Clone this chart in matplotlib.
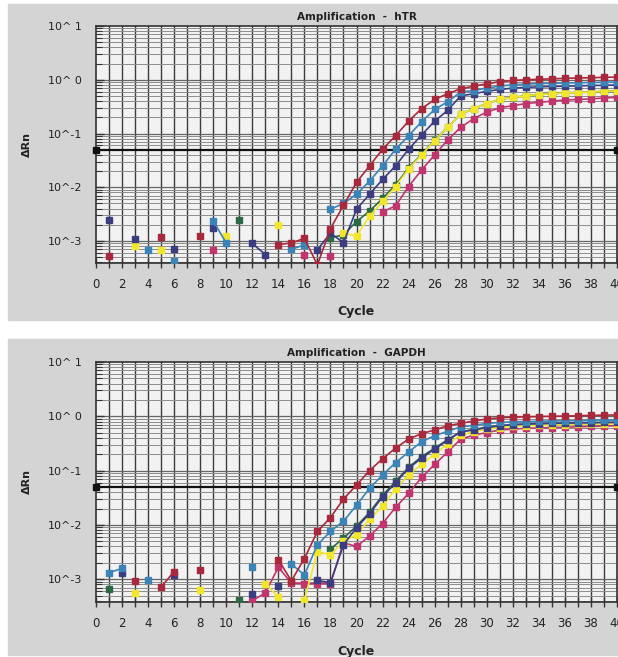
import numpy as np
import matplotlib
matplotlib.use("Agg")
import matplotlib.pyplot as plt
from matplotlib.patches import Rectangle
from matplotlib.ticker import FixedLocator, NullFormatter, LogLocator

nan = np.nan
cycles = list(range(1, 41))
thresh = 0.05
ytick_vals = [1e-3, 1e-2, 1e-1, 1e0, 1e1]
ytick_text = ["10^-3", "10^-2", "10^-1", "10^ 0", "10^ 1"]

# hTR panel (delta Rn per cycle, nan = not plotted)
htr_red = [5.3e-4, nan, nan, nan, 1.18e-3, nan, nan, 1.24e-3, nan, nan,
           nan, nan, nan, 8.6e-4, 9.2e-4, 1.12e-3, 3.6e-4, 1.7e-3, 4.6e-3, 0.0123,
           0.025, 0.051, 0.091, 0.17, 0.29, 0.43, 0.55, 0.68, 0.76, 0.84,
           0.92, 0.97, 1.0, 1.02, 1.04, 1.06, 1.08, 1.09, 1.11, 1.12]
htr_blue = [nan, nan, nan, 6.8e-4, nan, 4.2e-4, nan, nan, 2.35e-3, 9.2e-4,
            nan, nan, nan, nan, 7.0e-4, 8.5e-4, nan, 3.9e-3, 5.0e-3, 7.4e-3,
            0.013, 0.025, 0.051, 0.091, 0.166, 0.28, 0.39, 0.59, 0.63, 0.70,
            0.76, 0.81, 0.83, 0.85, 0.86, 0.87, 0.88, 0.89, 0.90, 0.90]
htr_navy = [2.5e-3, nan, 1.1e-3, nan, nan, 7.2e-4, nan, nan, 1.77e-3, nan,
            nan, 9.0e-4, 5.6e-4, nan, nan, nan, 6.9e-4, 1.4e-3, 9.3e-4, 3.9e-3,
            7.4e-3, 0.014, 0.025, 0.051, 0.094, 0.17, 0.27, 0.50, 0.55, 0.61,
            0.66, 0.70, 0.72, 0.74, 0.75, 0.76, 0.77, 0.78, 0.79, 0.80]
htr_green = [nan, nan, nan, nan, nan, nan, nan, nan, nan, nan,
             2.5e-3, nan, nan, nan, nan, nan, nan, 1.15e-3, 1.3e-3, 2.3e-3,
             3.6e-3, 6.2e-3, 0.011, 0.023, 0.041, 0.075, 0.13, 0.23, 0.29, 0.36,
             0.43, 0.47, 0.50, 0.53, 0.55, 0.57, 0.58, 0.59, 0.61, 0.62]
htr_yellow = [nan, nan, 8.0e-4, nan, 6.8e-4, nan, nan, nan, nan, 1.24e-3,
              nan, nan, nan, 2.0e-3, nan, nan, nan, nan, 1.4e-3, 1.23e-3,
              2.9e-3, 5.5e-3, 0.0103, 0.022, 0.040, 0.074, 0.13, 0.23, 0.29, 0.36,
              0.43, 0.47, 0.50, 0.53, 0.55, 0.57, 0.58, 0.59, 0.61, 0.62]
htr_magenta = [nan, nan, nan, nan, nan, nan, nan, nan, 6.8e-4, nan,
               nan, nan, nan, nan, nan, 5.6e-4, nan, 5.3e-4, nan, nan,
               nan, 3.5e-3, 4.5e-3, 0.0103, 0.021, 0.040, 0.076, 0.13, 0.19, 0.25,
               0.30, 0.33, 0.36, 0.38, 0.40, 0.42, 0.43, 0.44, 0.46, 0.47]

# GAPDH panel
gapdh_red = [nan, nan, 9.3e-4, nan, 7.2e-4, 1.38e-3, nan, 1.5e-3, nan, nan,
             nan, nan, nan, 2.3e-3, 9.3e-4, 2.4e-3, 7.6e-3, 0.0136, 0.030, 0.054,
             0.10, 0.165, 0.26, 0.38, 0.48, 0.56, 0.67, 0.74, 0.82, 0.89,
             0.94, 0.96, 0.98, 0.99, 1.0, 1.01, 1.02, 1.04, 1.05, 1.06]
gapdh_blue = [1.32e-3, 1.58e-3, nan, 9.6e-4, nan, nan, nan, nan, nan, nan,
              nan, 1.7e-3, nan, nan, 1.9e-3, 1.2e-3, 4.3e-3, 7.6e-3, 0.0117, 0.023,
              0.047, 0.083, 0.14, 0.22, 0.34, 0.44, 0.53, 0.64, 0.68, 0.74,
              0.77, 0.79, 0.80, 0.81, 0.82, 0.83, 0.83, 0.84, 0.85, 0.85]
gapdh_navy = [nan, 1.28e-3, nan, nan, nan, 1.2e-3, nan, nan, nan, nan,
              nan, 5.4e-4, nan, 7.4e-4, nan, nan, 9.5e-4, 8.6e-4, 4.3e-3, 8.9e-3,
              0.016, 0.033, 0.060, 0.11, 0.17, 0.25, 0.36, 0.52, 0.56, 0.62,
              0.67, 0.70, 0.72, 0.73, 0.74, 0.75, 0.76, 0.76, 0.77, 0.77]
gapdh_green = [6.5e-4, nan, nan, nan, nan, nan, nan, nan, nan, nan,
               4.2e-4, nan, nan, nan, nan, nan, nan, 3.6e-3, 5.7e-3, 9.5e-3,
               0.017, 0.035, 0.063, 0.115, 0.18, 0.26, 0.37, 0.52, 0.57, 0.63,
               0.67, 0.70, 0.72, 0.73, 0.74, 0.75, 0.76, 0.76, 0.77, 0.77]
gapdh_yellow = [nan, nan, 5.6e-4, nan, nan, nan, nan, 6.3e-4, nan, nan,
                nan, nan, 8.3e-4, 4.7e-4, nan, 4.2e-4, 3.2e-3, 2.8e-3, 5.0e-3, 6.6e-3,
                0.0126, 0.022, 0.046, 0.083, 0.13, 0.20, 0.31, 0.45, 0.52, 0.58,
                0.62, 0.65, 0.67, 0.68, 0.69, 0.70, 0.71, 0.71, 0.72, 0.72]
gapdh_magenta = [nan, nan, nan, nan, nan, nan, nan, nan, nan, nan,
                 nan, 4.0e-4, 5.6e-4, 1.66e-3, 8.5e-4, 8.3e-4, 8.3e-4, 8.3e-4, 4.7e-3, 4.0e-3,
                 6.2e-3, 0.0106, 0.021, 0.038, 0.075, 0.13, 0.22, 0.38, 0.45, 0.50,
                 0.56, 0.58, 0.60, 0.61, 0.62, 0.63, 0.64, 0.65, 0.66, 0.67]

colors = {"red": "#a8283c", "blue": "#3a84b8", "navy": "#3c3c80",
          "green": "#2c6a46", "yellow": "#f2e62c", "magenta": "#c2346e"}
draw_order = ["magenta", "green", "yellow", "navy", "blue", "red"]

htr = {"red": htr_red, "blue": htr_blue, "navy": htr_navy, "green": htr_green,
       "yellow": htr_yellow, "magenta": htr_magenta}
gapdh = {"red": gapdh_red, "blue": gapdh_blue, "navy": gapdh_navy, "green": gapdh_green,
         "yellow": gapdh_yellow, "magenta": gapdh_magenta}

W, H = 618, 657
fig = plt.figure(figsize=(W / 100, H / 100), dpi=100, facecolor="white")

# grey scanned panels, behind the axes
bg = fig.add_axes([0, 0, 1, 1], zorder=-10)
bg.set_xlim(0, W)
bg.set_ylim(H, 0)
bg.axis("off")
bg.add_patch(Rectangle((8, 4), 610, 316, color="#d4d4d4"))
bg.add_patch(Rectangle((8, 339), 610, 316, color="#d4d4d4"))


def draw_panel(ax, data, title, ylo):
    ax.set_facecolor("#f2f2f2")
    ax.set_yscale("log")
    ax.set_xlim(0, 40)
    ax.set_ylim(ylo, 10)

    # grid: every cycle vertical, log minor horizontals
    for c in range(1, 40):
        ax.axvline(c, color="#3c3c3c", lw=1.0, zorder=1)
    for dec in range(-4, 1):
        for m in range(2, 10):
            ax.axhline(m * 10.0 ** dec, color="#8c8c8c", lw=0.7, zorder=1)
        ax.axhline(10.0 ** dec, color="#666666", lw=0.9, zorder=1)

    ax.axhline(thresh, color="#111111", lw=1.6, zorder=2)
    ax.plot([0, 40], [thresh, thresh], "s", color="#111111", ms=4, clip_on=False, zorder=5)

    for name in draw_order:
        ax.plot(cycles, data[name], "-s", color=colors[name], lw=1.2, ms=4.4,
                zorder=3)

    ax.xaxis.set_major_locator(FixedLocator(range(0, 41, 2)))
    ax.xaxis.set_minor_locator(FixedLocator(range(1, 40, 2)))
    ax.tick_params(axis="x", which="both", direction="inout", length=7, width=1.0,
                   color="#333333", labelsize=8.5, pad=7.5, labelcolor="#222222")
    ax.yaxis.set_major_locator(FixedLocator(ytick_vals))
    ax.set_yticklabels(ytick_text)
    ax.yaxis.set_minor_locator(LogLocator(base=10, subs=np.arange(2, 10)))
    ax.yaxis.set_minor_formatter(NullFormatter())
    ax.tick_params(axis="y", which="major", direction="in", length=6, width=1.0,
                   labelsize=8, pad=10, labelcolor="#222222", color="#333333")
    ax.tick_params(axis="y", which="minor", direction="in", length=4, width=0.8,
                   color="#333333")
    for s in ax.spines.values():
        s.set_color("#333333")
        s.set_linewidth(1.2)

    ax.set_title(title, fontsize=7.5, fontweight="bold", color="#222222", pad=4)
    ax.text(0.5, -0.205, "Cycle", transform=ax.transAxes, ha="center", va="center",
            fontsize=9, fontweight="bold", color="#222222")
    ax.text(-0.133, 0.5, "\u0394Rn", transform=ax.transAxes, ha="center", va="center",
            rotation=90, fontsize=8, fontweight="bold", color="#222222")


ax1 = fig.add_axes([96 / W, 1 - 263 / H, 521 / W, 237 / H])
draw_panel(ax1, htr, "Amplification  -  hTR", 3.9e-4)

ax2 = fig.add_axes([96 / W, 1 - 602 / H, 521 / W, 240 / H])
draw_panel(ax2, gapdh, "Amplification  -  GAPDH", 3.8e-4)

fig.savefig("out.png", dpi=100, facecolor="white")
